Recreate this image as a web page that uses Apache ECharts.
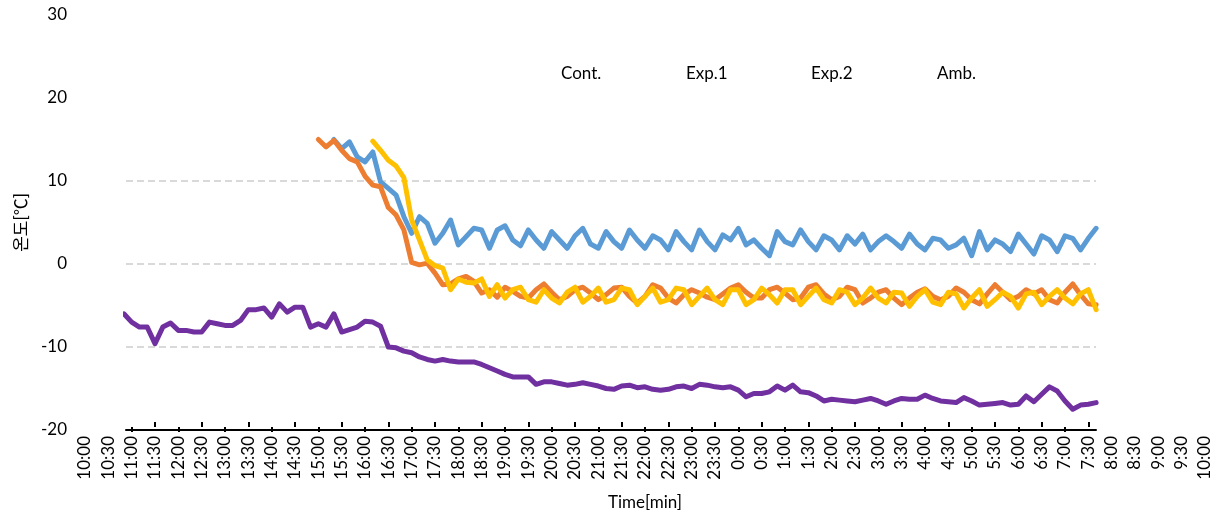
<!DOCTYPE html>
<html>
<head>
<meta charset="utf-8">
<script src="https://cdn.jsdelivr.net/npm/echarts@6/dist/echarts.min.js"></script>
<style>
  html, body { margin: 0; padding: 0; background: #fff; }
  #chart { width: 1224px; height: 516px; }
</style>
</head>
<body>
<div id="chart"></div>
<script>
// Axis tick labels, every 30 minutes from 10:00 to 10:00 the next day
const tickLabels = [
  '10:00','10:30','11:00','11:30','12:00','12:30','13:00','13:30','14:00','14:30',
  '15:00','15:30','16:00','16:30','17:00','17:30','18:00','18:30','19:00','19:30',
  '20:00','20:30','21:00','21:30','22:00','22:30','23:00','23:30','0:00','0:30',
  '1:00','1:30','2:00','2:30','3:00','3:30','4:00','4:30','5:00','5:30',
  '6:00','6:30','7:00','7:30','8:00','8:30','9:00','9:30','10:00'
];

// Readings are logged every 10 minutes, the first at 10:50 (minutes after 10:00)
const firstReading = 50;
const readingStep = 10;

const seriesNames = ['Cont.', 'Exp.1', 'Exp.2', 'Amb.'];

// Temperatures in °C (null = no reading shown)
const cont = [
  null,null,null,null,null,null,null,null,null,null,
  null,null,null,null,null,null,null,null,null,null,
  null,null,null,null,null,null,null,
  15.0,13.9,14.7,12.9,12.3,13.5,9.9,9.1,8.3,5.7,
  3.7,5.7,4.9,2.5,3.7,5.3,2.3,3.3,4.3,4.1,
  1.9,4.1,4.6,2.9,2.2,4.1,2.9,1.9,3.9,2.9,
  1.9,3.4,4.3,2.4,1.9,3.9,2.7,1.9,4.1,2.9,
  1.9,3.4,2.9,1.7,3.9,2.7,1.7,4.1,2.7,1.7,
  3.5,2.9,4.3,2.3,2.9,1.9,1.0,3.9,2.7,2.3,
  4.1,2.7,1.7,3.4,2.9,1.7,3.4,2.4,3.6,1.7,
  2.7,3.4,2.7,1.9,3.6,2.4,1.7,3.1,2.9,1.9,
  2.3,3.1,1.0,3.9,1.7,2.9,2.4,1.5,3.6,2.4,
  1.2,3.4,2.9,1.5,3.4,3.1,1.7,3.1,4.3
];
const exp1 = [
  null,null,null,null,null,null,null,null,null,null,
  null,null,null,null,null,null,null,null,null,null,
  null,null,null,null,null,
  15.0,14.1,14.9,13.7,12.7,12.3,10.6,9.5,9.3,6.8,
  5.9,4.1,0.2,-0.1,0.1,-1.1,-2.5,-2.4,-1.8,-1.5,
  -2.1,-3.5,-3.1,-4.0,-2.8,-3.3,-3.9,-4.1,-3.1,-2.4,
  -3.4,-4.3,-3.9,-3.1,-2.8,-3.5,-4.3,-3.7,-2.9,-2.8,
  -3.9,-4.7,-3.9,-2.5,-2.9,-4.1,-4.7,-3.7,-3.1,-3.5,
  -4.0,-4.3,-3.6,-2.9,-2.5,-3.4,-4.1,-4.1,-3.1,-2.8,
  -3.5,-4.3,-4.1,-2.8,-2.5,-3.6,-4.3,-3.9,-2.8,-3.1,
  -4.7,-4.1,-3.4,-3.1,-4.1,-4.9,-4.1,-3.4,-3.0,-3.9,
  -4.3,-3.9,-2.9,-3.4,-4.3,-4.8,-3.6,-2.5,-3.4,-4.3,
  -3.9,-3.1,-3.6,-3.1,-4.3,-4.7,-3.4,-2.4,-3.7,-4.8,
  -4.9
];
const exp2 = [
  null,null,null,null,null,null,null,null,null,null,
  null,null,null,null,null,null,null,null,null,null,
  null,null,null,null,null,null,null,null,null,null,
  null,null,
  14.8,13.7,12.5,11.8,10.4,5.3,2.9,0.5,-0.2,-0.5,
  -3.1,-1.8,-2.2,-2.3,-1.8,-3.9,-2.5,-4.1,-3.1,-2.8,
  -4.3,-4.6,-3.1,-4.1,-4.7,-3.4,-2.8,-4.6,-3.9,-2.9,
  -4.6,-4.3,-2.9,-3.1,-4.9,-3.9,-2.9,-4.6,-4.3,-2.9,
  -3.1,-4.9,-3.9,-2.9,-4.3,-4.9,-3.1,-3.1,-4.9,-4.3,
  -2.9,-3.7,-4.7,-3.1,-3.1,-4.9,-3.9,-2.9,-4.3,-4.7,
  -3.1,-3.4,-4.9,-4.1,-2.9,-4.1,-4.7,-3.4,-3.5,-5.1,
  -3.9,-3.1,-4.6,-4.9,-3.4,-3.6,-5.3,-4.1,-3.1,-5.1,
  -4.3,-3.4,-3.9,-5.3,-3.6,-3.4,-4.9,-3.9,-3.1,-4.1,
  -4.8,-3.6,-3.1,-5.5
];
const amb = [
  -6.0,-7.0,-7.6,-7.6,-9.6,-7.6,-7.1,-8.0,-8.0,-8.2,
  -8.2,-7.0,-7.2,-7.4,-7.4,-6.8,-5.5,-5.5,-5.3,-6.4,
  -4.8,-5.8,-5.2,-5.2,-7.6,-7.2,-7.6,-6.0,-8.2,-7.9,
  -7.6,-6.9,-7.0,-7.5,-10.0,-10.1,-10.5,-10.7,-11.2,-11.5,
  -11.7,-11.5,-11.7,-11.8,-11.8,-11.8,-12.1,-12.5,-12.9,-13.3,
  -13.6,-13.6,-13.6,-14.5,-14.2,-14.2,-14.4,-14.6,-14.5,-14.3,
  -14.5,-14.7,-15.0,-15.1,-14.7,-14.6,-14.9,-14.8,-15.1,-15.2,
  -15.1,-14.8,-14.7,-15.0,-14.5,-14.6,-14.8,-14.9,-14.8,-15.2,
  -16.0,-15.6,-15.6,-15.4,-14.7,-15.2,-14.6,-15.4,-15.5,-15.9,
  -16.5,-16.3,-16.4,-16.5,-16.6,-16.4,-16.2,-16.5,-16.9,-16.5,
  -16.2,-16.3,-16.3,-15.8,-16.2,-16.5,-16.6,-16.7,-16.1,-16.5,
  -17.0,-16.9,-16.8,-16.7,-17.0,-16.9,-15.9,-16.6,-15.7,-14.8,
  -15.3,-16.5,-17.5,-17.0,-16.9,-16.7
];

const seriesValues = [cont, exp1, exp2, amb];
const seriesColors = ['#5B9BD5', '#ED7D31', '#FFC000', '#7030A0'];

const FONT = 'Lato, "Noto Sans CJK KR", sans-serif';
const TEXT = '#000';
const FONT_SIZE = 17;

// Layout: the plot box, and a wider strip that carries the time labels
const PLOT_LEFT = 126, PLOT_WIDTH = 970, PLOT_TOP = 15, PLOT_HEIGHT = 415;
const LABEL_LEFT = 85, LABEL_WIDTH = 1120;
const minutesPerPx = 1440 / LABEL_WIDTH;
const plotMinMinute = (PLOT_LEFT - LABEL_LEFT) * minutesPerPx;
const plotMaxMinute = (PLOT_LEFT + PLOT_WIDTH - LABEL_LEFT) * minutesPerPx;
const Y_MIN = -20, Y_MAX = 30;
const pxPerDegree = PLOT_HEIGHT / (Y_MAX - Y_MIN);
// band that carries the dashed gridlines (-10 .. 10)
const GRID_LINES_MIN = -10, GRID_LINES_MAX = 10;
const gridBandTop = PLOT_TOP + (Y_MAX - GRID_LINES_MAX) * pxPerDegree;
const gridBandHeight = (GRID_LINES_MAX - GRID_LINES_MIN) * pxPerDegree;

const toPoints = vals => vals.map((v, i) => [firstReading + i * readingStep, v]);

const chart = echarts.init(document.getElementById('chart'), null, { renderer: 'canvas' });

const legendLefts = [551, 676, 801, 927];

chart.setOption({
  animation: false,
  backgroundColor: '#fff',
  textStyle: { fontFamily: FONT },
  grid: [
    { left: PLOT_LEFT, width: PLOT_WIDTH, top: PLOT_TOP, height: PLOT_HEIGHT },
    { left: LABEL_LEFT, width: LABEL_WIDTH, top: PLOT_TOP, height: PLOT_HEIGHT },
    { left: PLOT_LEFT, width: PLOT_WIDTH, top: gridBandTop, height: gridBandHeight },
    { left: PLOT_LEFT, width: PLOT_WIDTH, top: PLOT_TOP, height: PLOT_HEIGHT }
  ],
  legend: seriesNames.map((name, i) => ({
    data: [name],
    left: legendLefts[i],
    top: 60,
    icon: 'none',
    itemWidth: 0,
    itemHeight: 14,
    selectedMode: false,
    textStyle: { fontFamily: FONT, fontSize: FONT_SIZE, color: TEXT }
  })),
  xAxis: [
    {
      // data axis: minutes after 10:00
      gridIndex: 0, type: 'value', min: plotMinMinute, max: plotMaxMinute,
      axisLine: { show: false }, axisTick: { show: false },
      axisLabel: { show: false }, splitLine: { show: false }
    },
    {
      // time labels with hourly ticks below the line
      gridIndex: 1, type: 'category', data: tickLabels, boundaryGap: false, position: 'bottom',
      axisLine: { show: false, onZero: false },
      axisTick: {
        show: true, length: 5, inside: false,
        interval: i => i >= 2 && i <= 42 && i % 2 === 0,
        lineStyle: { color: '#000', width: 2 }
      },
      axisLabel: {
        show: true, interval: 0, rotate: 90, margin: 9,
        fontFamily: FONT, fontSize: FONT_SIZE, color: TEXT
      },
      splitLine: { show: false },
      name: 'Time[min]', nameLocation: 'middle', nameGap: 67,
      nameTextStyle: { fontFamily: FONT, fontSize: FONT_SIZE, color: TEXT }
    },
    {
      // half-hour ticks above the line
      gridIndex: 1, type: 'category', data: tickLabels, boundaryGap: false, position: 'bottom',
      axisLine: { show: false, onZero: false },
      axisTick: {
        show: true, length: 5, inside: true,
        interval: i => i >= 3 && i <= 43 && i % 2 === 1,
        lineStyle: { color: '#000', width: 2 }
      },
      axisLabel: { show: false }, splitLine: { show: false }
    },
    {
      gridIndex: 2, type: 'value', min: 0, max: 1, show: false
    },
    {
      // baseline of the plot box
      gridIndex: 3, type: 'value', min: 0, max: 1, position: 'bottom',
      axisLine: { show: true, onZero: true, lineStyle: { color: '#000', width: 2 } },
      axisTick: { show: false }, axisLabel: { show: false }, splitLine: { show: false }
    }
  ],
  yAxis: [
    {
      gridIndex: 0, type: 'value', min: Y_MIN, max: Y_MAX, interval: 10,
      axisLine: { show: false }, axisTick: { show: false },
      axisLabel: { margin: 59, fontFamily: FONT, fontSize: FONT_SIZE, color: TEXT },
      splitLine: { show: false },
      name: '온도[℃]', nameLocation: 'middle', nameGap: 95,
      nameTextStyle: { fontFamily: FONT, fontSize: FONT_SIZE, color: TEXT }
    },
    { gridIndex: 1, type: 'value', min: 0, max: 1, show: false },
    {
      // dashed gridlines at -10, 0 and 10
      gridIndex: 2, type: 'value', min: GRID_LINES_MIN, max: GRID_LINES_MAX, interval: 10,
      axisLine: { show: false }, axisTick: { show: false }, axisLabel: { show: false },
      splitLine: { show: true, lineStyle: { color: '#D9D9D9', width: 2, type: [7, 4] } }
    },
    {
      gridIndex: 3, type: 'value', min: 0, max: 1,
      axisLine: { show: false }, axisTick: { show: false },
      axisLabel: { show: false }, splitLine: { show: false }
    }
  ],
  series: seriesNames.map((name, i) => ({
    name,
    type: 'line',
    xAxisIndex: 0,
    yAxisIndex: 0,
    data: toPoints(seriesValues[i]),
    showSymbol: false,
    symbol: 'none',
    clip: true,
    color: seriesColors[i],
    lineStyle: { color: seriesColors[i], width: 5, cap: 'round', join: 'round' },
    emphasis: { disabled: true }
  }))
});
</script>
</body>
</html>
